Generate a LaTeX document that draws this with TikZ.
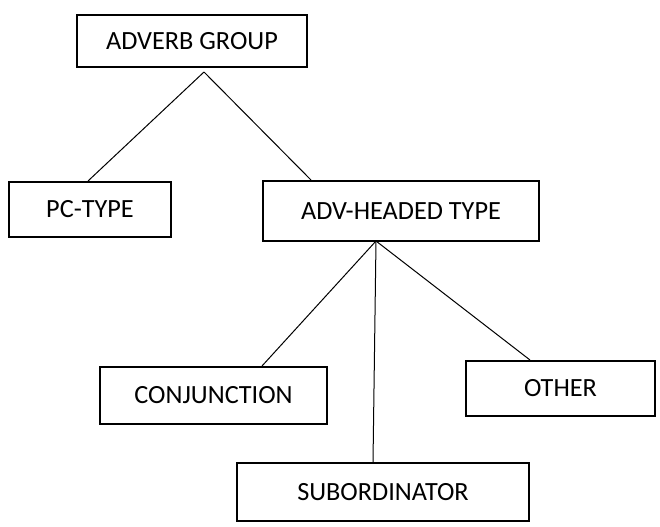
\documentclass[tikz,border=0pt]{standalone}
\usepackage{fontspec}
\setmainfont{Carlito}
\usetikzlibrary{calc}
\begin{document}
\begin{tikzpicture}[x=0.75pt,y=-0.75pt,
  box/.style={draw, line width=1.5pt, rectangle, inner sep=0pt,
    font=\fontsize{19.7}{22}\selectfont},
  link/.style={line width=0.75pt}]
\useasboundingbox (0,0) rectangle (660,526);
\node[box, minimum width=172.5pt, minimum height=39pt] (ag) at (192,41) {ADVERB GROUP};
\node[box, minimum width=121.5pt, minimum height=41.25pt] (pc) at (90,209.5) {PC-TYPE};
\node[box, minimum width=207pt, minimum height=45pt] (adv) at (401,211) {ADV-HEADED TYPE};
\node[box, minimum width=170.25pt, minimum height=42.75pt] (conj) at (213.5,395.5) {CONJUNCTION};
\node[box, minimum width=141.75pt, minimum height=41.25pt] (other) at (560.5,388.5) {OTHER};
\node[box, minimum width=219pt, minimum height=43.5pt] (sub) at (383,492) {SUBORDINATOR};
\coordinate (agapex) at (204,72);
\coordinate (advapex) at (376,241);
\draw[link] (agapex) -- ($(pc.north)+(-2,0)$);
\draw[link] (agapex) -- ($(adv.north west)+(49,0)$);
\draw[link] (advapex) -- ($(conj.north west)+(163,0)$);
\draw[link] (advapex) -- ($(sub.north west)+(137,0)$);
\draw[link] (advapex) -- ($(other.north west)+(65,0)$);
\end{tikzpicture}
\end{document}
